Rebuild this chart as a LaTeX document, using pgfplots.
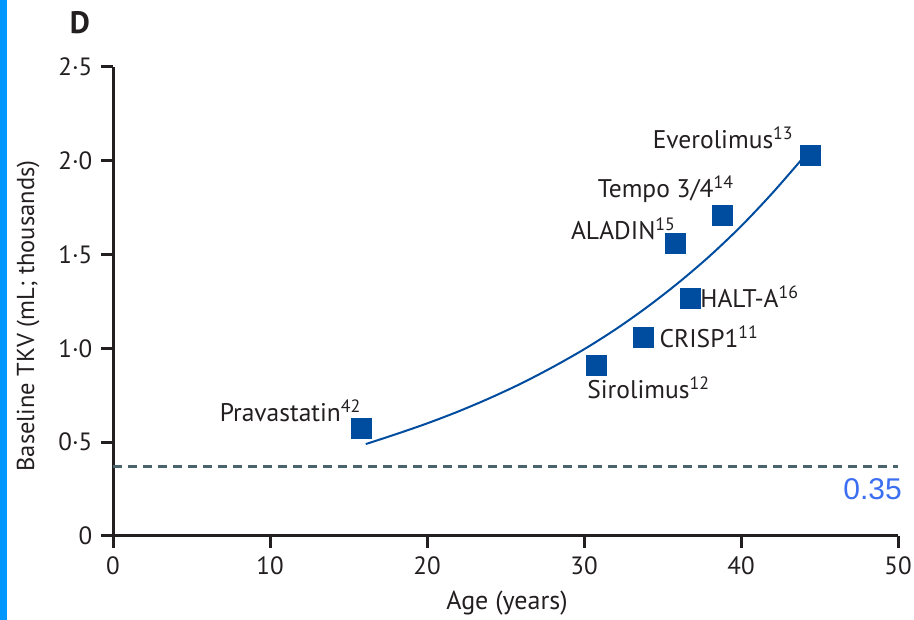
\documentclass[border=0pt]{standalone}
\usepackage{pgfplots}
\pgfplotsset{compat=1.18}
\usepackage{fontspec}
\setmainfont{PT Sans}
\newfontfamily\arialfont{Liberation Sans}
\definecolor{mk}{RGB}{0,76,158}
\definecolor{dashc}{RGB}{74,100,110}
\definecolor{lbl}{RGB}{59,110,240}
\definecolor{sidebar}{RGB}{0,150,255}
\definecolor{ax}{RGB}{35,31,32}
\begin{document}
\fontsize{25.5bp}{30bp}\selectfont
\begin{tikzpicture}[x=1bp,y=1bp]
\useasboundingbox (0,0) rectangle (914,620);
\fill[sidebar] (0,0) rectangle (7,620);
\node[font=\fontsize{31bp}{34bp}\selectfont\bfseries, text=ax] at (80,597) {D};
\node[rotate=90, text=ax, font=\fontsize{24.5bp}{28bp}\selectfont] at (28,304) {Baseline TKV (mL; thousands)};
\node[text=ax, font=\fontsize{26bp}{30bp}\selectfont] at (507,17) {Age (years)};
\begin{axis}[
  at={(113bp,84bp)}, anchor=south west,
  width=785bp, height=469bp, scale only axis,
  xmin=0, xmax=50, ymin=0, ymax=2.5,
  axis lines=left,
  axis line style={-, line width=3bp, ax},
  xtick={0,10,20,30,40,50},
  xticklabels={0,10,20,30,40,50},
  ytick={0,0.5,1,1.5,2,2.5},
  yticklabels={0,0·5,1·0,1·5,2·0,2·5},
  /pgf/number format/assume math mode=true,
  tick align=outside,
  major tick length=12bp,
  tick style={line width=3bp, ax},
  ticklabel style={text=ax, font=\fontsize{25bp}{29bp}\selectfont},
  clip=false,
]
\addplot[dashc, line width=3.5bp, dash pattern=on 9bp off 6bp] coordinates {(0,0.37) (50,0.37)};
\addplot[mk, line width=2bp, smooth] coordinates {
(16.1,0.49) (18,0.542) (20,0.600) (22,0.664) (24,0.735) (26,0.813) (28,0.900)
(30,0.995) (32,1.101) (34,1.219) (36,1.349) (38,1.492) (40,1.651) (42,1.828) (44.1,2.03)};
\addplot[only marks, mark=square*, mark size=10bp, mark options={mk, draw=mk, fill=mk}] coordinates {
(15.8,0.576) (30.8,0.91) (33.8,1.06) (36.75,1.27) (35.8,1.56) (38.8,1.71) (44.4,2.03)};
\node[anchor=east, text=ax, inner sep=1bp] at (axis cs:15.86,0.666) {Pravastatin\textsuperscript{42}};
\node[anchor=east, text=ax, inner sep=1bp] at (axis cs:43.4,2.12) {Everolimus\textsuperscript{13}};
\node[anchor=east, text=ax, inner sep=1bp] at (axis cs:39.6,1.85) {Tempo 3/4\textsuperscript{14}};
\node[anchor=east, text=ax, inner sep=1bp] at (axis cs:35.9,1.636) {ALADIN\textsuperscript{15}};
\node[anchor=west, text=ax, inner sep=0pt] at (axis cs:37.4,1.274) {HALT-A\textsuperscript{16}};
\node[anchor=west, text=ax, inner sep=0pt] at (axis cs:34.8,1.06) {CRISP1\textsuperscript{11}};
\node[anchor=west, text=ax, inner sep=0pt] at (axis cs:30.2,0.79) {Sirolimus\textsuperscript{12}};
\node[anchor=east, text=lbl, inner sep=0pt, font=\arialfont\fontsize{30bp}{34bp}\selectfont] at (axis cs:50.25,0.25) {0.35};
\end{axis}
\end{tikzpicture}
\end{document}
